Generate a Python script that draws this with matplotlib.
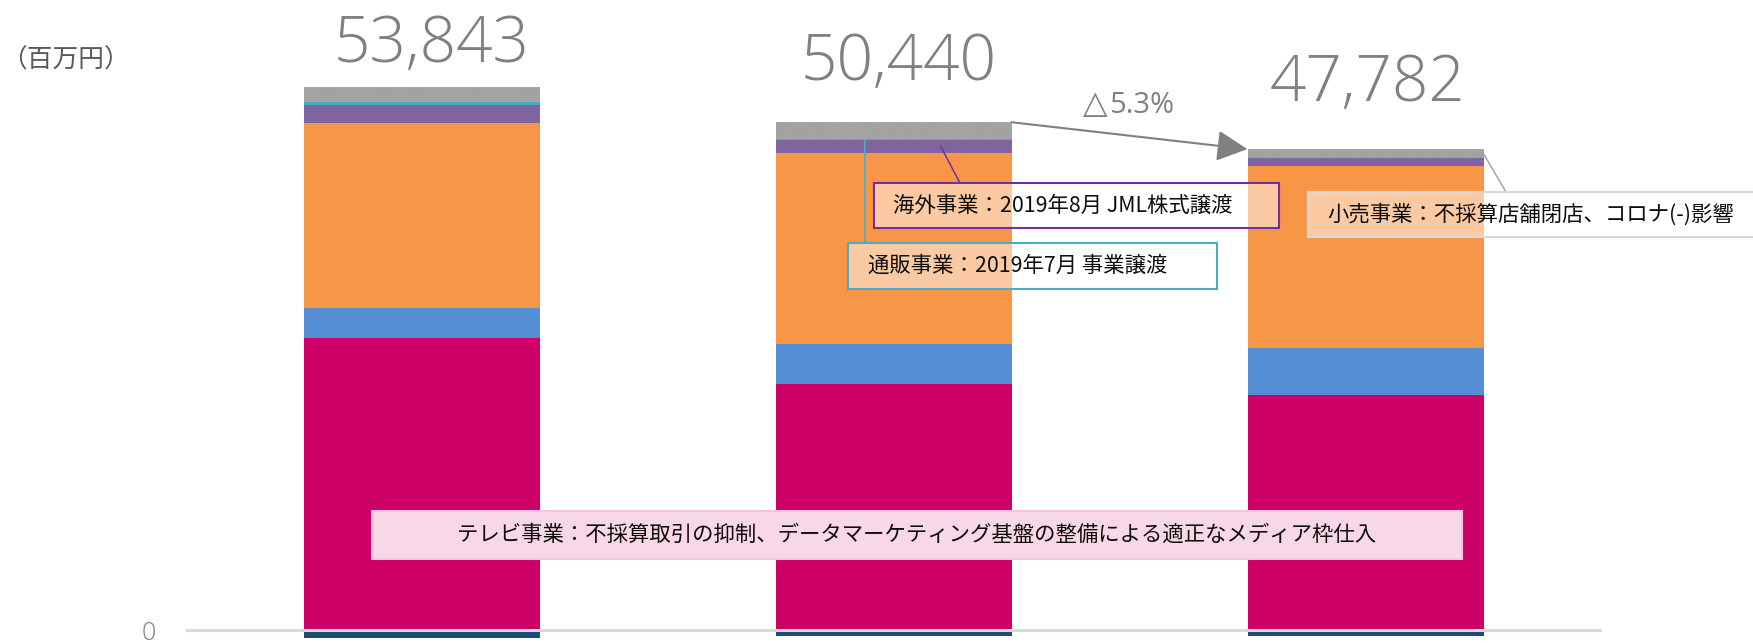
import matplotlib
matplotlib.use('Agg')
import matplotlib.pyplot as plt
from matplotlib.patches import Rectangle
import numpy as np

# ---------------- data (百万円) ----------------
tv_business = [29340, 24720, 23640]        # テレビ事業 (magenta)
segment_blue = [3010, 4020, 4690]           # blue segment
segment_orange = [18570, 19240, 18300]      # orange segment
overseas_business = [1840, 1250, 770]       # 海外事業 (purple)
mailorder_business = [330, 100, 0]          # 通販事業 (cyan)
retail_business = [1510, 1700, 930]         # 小売事業 (gray)
adjustment = [-757, -590, -548]             # 調整 (navy, negative)
totals = [53843, 50440, 47782]
unit_label = "（百万円）"
ytick_values = [0]
ytick_labels = ["0"]
note_overseas = "海外事業：2019年8月 JML株式譲渡"
note_mailorder = "通販事業：2019年7月 事業譲渡"
note_retail = "小売事業：不採算店舗閉店、コロナ(-)影響"
note_tv = "テレビ事業：不採算取引の抑制、データマーケティング基盤の整備による適正なメディア枠仕入"

# ---------------- style ----------------
plt.rcParams['font.family'] = ['Noto Sans CJK JP', 'DejaVu Sans']
plt.rcParams['hatch.color'] = '#959595'
plt.rcParams['hatch.linewidth'] = 0.4
W, H = 1753, 643
NUM_FONT = ['Open Sans', 'DejaVu Sans']
GRAY_TXT = '#808080'

fig = plt.figure(figsize=(W / 100, H / 100), dpi=100)
ax = fig.add_axes([185.5 / W, 0, 1416 / W, 1])

x = np.arange(len(totals))
width = 0.5
stack = [tv_business, segment_blue, segment_orange, overseas_business,
         mailorder_business, retail_business]
colors = ['#CC0066', '#558ED5', '#F79646', '#8064A2', '#4BACC6', '#A6A6A6']
bottoms = []
bottom = np.zeros(len(totals))
for i, (vals, c) in enumerate(zip(stack, colors)):
    bottoms.append(bottom.copy())
    if i == len(stack) - 1:
        ax.bar(x, vals, width, bottom=bottom, color=c, edgecolor='#959595',
               hatch='.......', linewidth=0, zorder=2)
    else:
        ax.bar(x, vals, width, bottom=bottom, color=c, linewidth=0, zorder=2)
    bottom = bottom + np.array(vals)
tops = bottom.copy()
ax.bar(x, adjustment, width, color='#1F497D', linewidth=0, zorder=2)

ax.axhline(0, color='#D9D9D9', lw=2.2, zorder=3)
ax.set_xlim(-0.5, 2.5)
ax.set_ylim(-1255, 63302)
for s in ax.spines.values():
    s.set_visible(False)
ax.set_xticks([])
ax.set_yticks(ytick_values)
ax.set_yticklabels(ytick_labels)
ax.tick_params(axis='y', length=0, pad=21.5, labelsize=18, labelcolor=GRAY_TXT)
for lbl in ax.get_yticklabels():
    lbl.set_fontfamily(NUM_FONT)
    lbl.set_fontweight('light')

# total labels
gap_px = [25, 42, 48]
dx_px = [10, 5, 2]
for i in range(len(totals)):
    ax.annotate(f"{totals[i]:,}", xy=(x[i], tops[i]),
                xytext=(dx_px[i] / 1.389, gap_px[i] / 1.389), textcoords='offset points',
                ha='center', va='baseline', fontsize=46, color=GRAY_TXT,
                family=NUM_FONT, fontweight='light')

# arrow between bar 2 and bar 3
ax.annotate('', xy=(x[2] - width / 2, tops[2]), xytext=(x[1] + width / 2, tops[1]),
            arrowprops=dict(arrowstyle='-|>,head_length=1.0,head_width=0.5',
                            mutation_scale=19, color=GRAY_TXT, lw=1.5,
                            shrinkA=0, shrinkB=0), zorder=5)
change = totals[2] / totals[1] - 1
fig.text(1108 / W, 1 - 113 / H, "△", ha='right', va='baseline',
         fontsize=23, color=GRAY_TXT, family=['DejaVu Sans'])
fig.text(1109 / W, 1 - 113 / H, f"{abs(change) * 100:.1f}%", ha='left', va='baseline',
         fontsize=21, color=GRAY_TXT, family=NUM_FONT)

fig.text(1 / W, 1 - 61 / H, unit_label, ha='left', va='center', fontsize=18.5,
         color='#595959')


def fpx(px, py):
    return (px / W, 1 - py / H)


# leader lines (start on data segments, end at note boxes)
leaders = [
    ((x[1] + 0.10, bottoms[3][1] + overseas_business[1] / 2), (960, 183), '#7030A0'),
    ((x[1] - 0.061, bottoms[4][1] + mailorder_business[1] / 2), (865, 243), '#4BACC6'),
    ((x[2] + width / 2, bottoms[5][2] + retail_business[2] / 2), (1506, 192), '#A6A6A6'),
]
for start, end, col in leaders:
    ax.annotate('', xy=fpx(*end), xycoords='figure fraction', xytext=start,
                textcoords='data',
                arrowprops=dict(arrowstyle='-', color=col, lw=1.1, shrinkA=0, shrinkB=0),
                zorder=4)

# note boxes
boxes = [
    ((874, 183, 1279, 228), '#7030A0', (1, 1, 1, 0.5), note_overseas, 893, 'left'),
    ((848, 243, 1217, 289), '#4BACC6', (1, 1, 1, 0.5), note_mailorder, 868, 'left'),
    ((1308, 192, 1765, 237), '#D9D9D9', (1, 1, 1, 0.5), note_retail, 1327, 'left'),
    ((372, 511, 1462, 559), '#F9C3DD', '#F8D7E7', note_tv, 917, 'center'),
]
for (x0, y0, x1, y1), ec, fc, txt, tx, ha in boxes:
    fx0, fy1 = fpx(x0, y1)
    fig.add_artist(Rectangle((fx0, fy1), (x1 - x0) / W, (y1 - y0) / H,
                             transform=fig.transFigure, facecolor=fc, edgecolor=ec,
                             lw=1.5, zorder=5))
    fig.text(tx / W, 1 - ((y0 + y1) / 2) / H, txt, ha=ha, va='center', fontsize=15.4,
             color='#0D0D0D', zorder=6)

fig.savefig('out.png', dpi=100)
